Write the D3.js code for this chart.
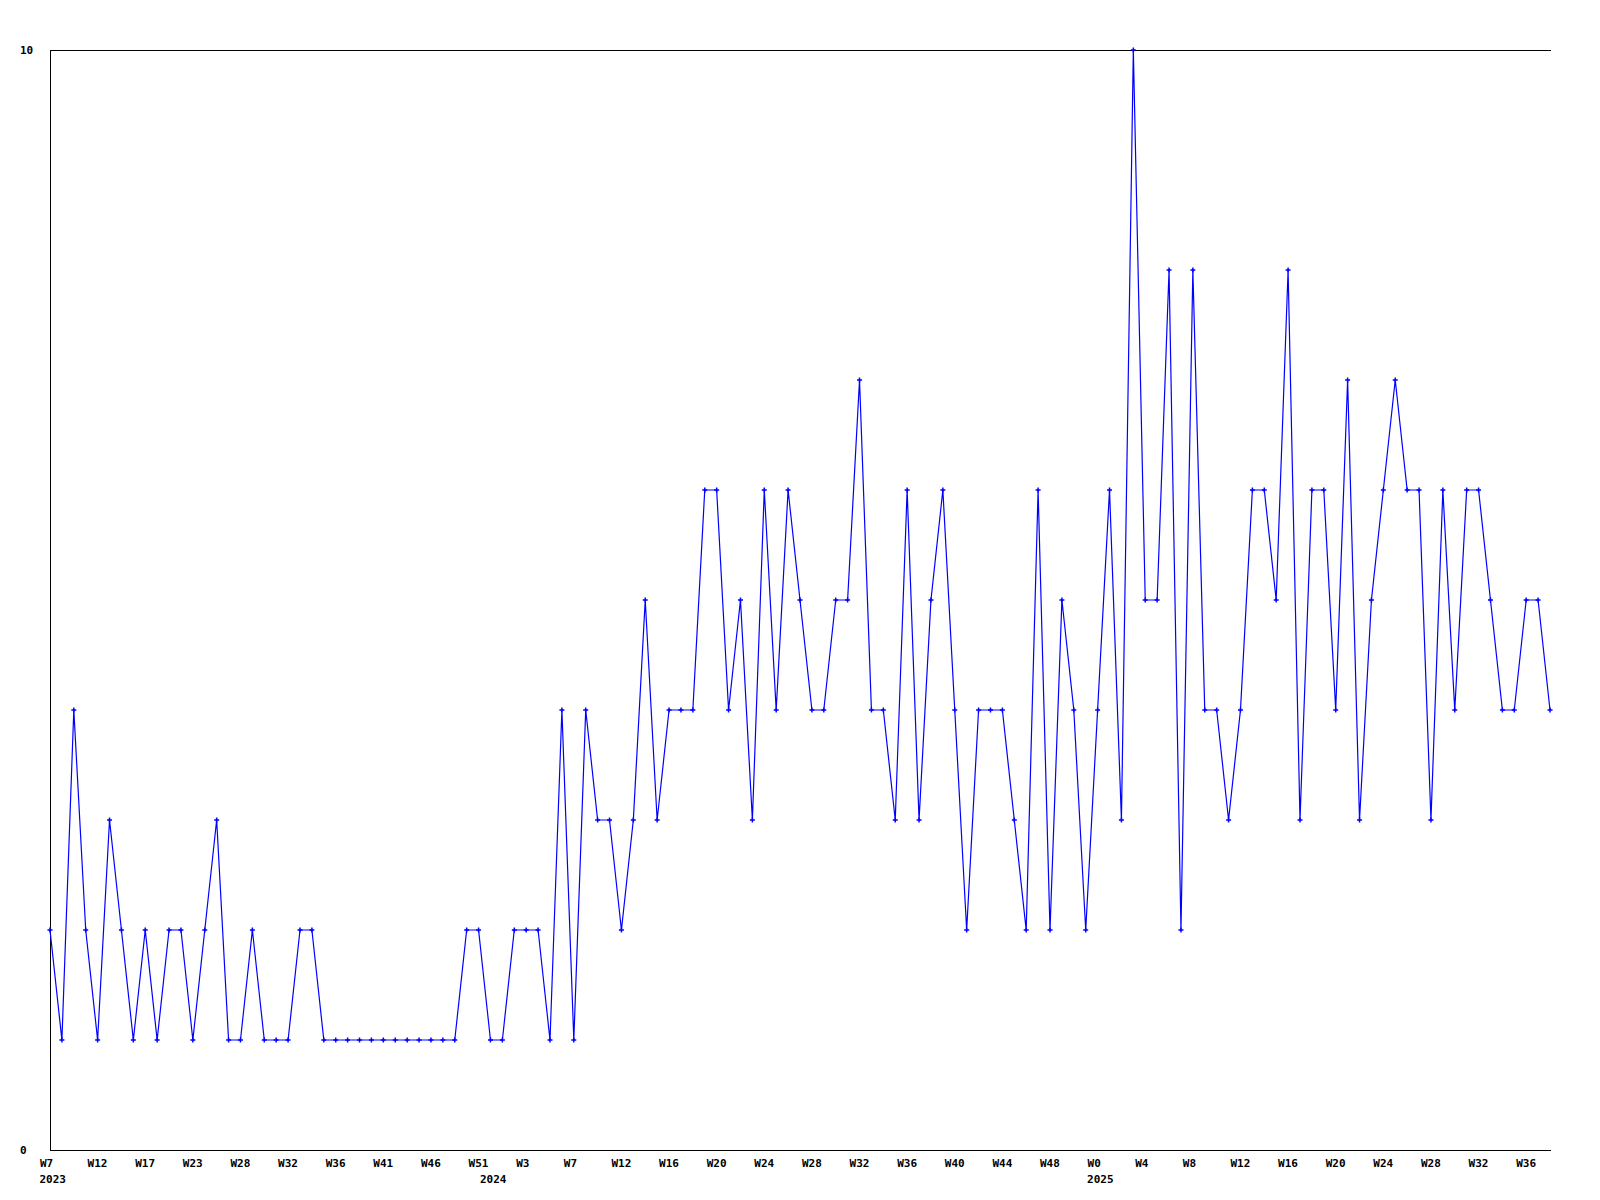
<!DOCTYPE html>
<html>
<head>
<meta charset="utf-8">
<script src="https://cdn.jsdelivr.net/npm/d3@7"></script>
<style>
  html, body { margin: 0; padding: 0; background: #fff; }
  svg { display: block; }
  text { font-family: "DejaVu Sans Mono", monospace; font-weight: bold; font-size: 11px; fill: #000; }
</style>
</head>
<body>
<svg id="chart" width="1600" height="1200"></svg>
<script>
// ---- data ----
const values = [
  2,1,4,2,1,3,2,1,2,1,2,2,1,2,3,1,1,2,1,1,1,2,2,1,1,1,1,1,1,1,1,1,1,1,1,2,2,1,1,2,2,2,1,
  4,1,4,3,3,2,3,5,3,4,4,4,6,6,4,5,3,6,4,6,5,4,4,5,5,7,4,4,3,6,3,5,6,4,2,4,4,4,3,2,6,2,
  5,4,2,4,6,3,10,5,5,8,2,8,4,4,3,4,6,6,5,8,3,6,6,4,7,3,5,6,7,6,6,3,6,4,6,6,5,4,4,5,5,4
];
const weekLabels = ["W7","W12","W17","W23","W28","W32","W36","W41","W46","W51","W3",
  "W7","W12","W16","W20","W24","W28","W32","W36","W40","W44","W48",
  "W0","W4","W8","W12","W16","W20","W24","W28","W32","W36"];
const labelEvery = 4;
const yearLabels = ["2023","2024","2025"];
const yearStartIndex = [0, 37, 88];
const yTicks = [0, 10];

// ---- layout ----
const svg = d3.select("#chart");
const mLeft = 50, mRight = 1550, mTop = 50, mBottom = 1150;

const x = d3.scaleLinear().domain([0, values.length - 1]).range([mLeft, mRight]);
const y = d3.scaleLinear().domain([0, 10]).range([mBottom, mTop]);

// frame: left axis, bottom axis, top line
svg.append("line").attr("x1", mLeft + 0.5).attr("x2", mLeft + 0.5).attr("y1", mTop).attr("y2", mBottom + 0.5)
  .attr("stroke", "#000").attr("stroke-width", 1).attr("shape-rendering", "crispEdges");
svg.append("line").attr("x1", mLeft).attr("x2", mRight + 1).attr("y1", mBottom + 0.5).attr("y2", mBottom + 0.5)
  .attr("stroke", "#000").attr("stroke-width", 1).attr("shape-rendering", "crispEdges");
svg.append("line").attr("x1", mLeft).attr("x2", mRight + 1).attr("y1", mTop + 0.5).attr("y2", mTop + 0.5)
  .attr("stroke", "#000").attr("stroke-width", 1).attr("shape-rendering", "crispEdges");

// y labels
svg.selectAll("text.ylab").data(yTicks).enter().append("text")
  .attr("class", "ylab")
  .attr("x", 20)
  .attr("y", d => y(d))
  .attr("dy", "0.35em")
  .text(d => d);

// x week labels via axis
const tickIdx = weekLabels.map((_, i) => i * labelEvery);
const xAxis = d3.axisBottom(x)
  .tickValues(tickIdx)
  .tickSize(0)
  .tickPadding(0)
  .tickFormat((d, i) => weekLabels[i]);
const gx = svg.append("g").attr("transform", `translate(0,${mBottom + 9})`).call(xAxis);
gx.select(".domain").remove();
gx.selectAll("text")
  .attr("text-anchor", "start")
  .attr("dx", -10.5)
  .attr("dy", "0.35em")
  .attr("y", 4.5)
  .style("font-family", "'DejaVu Sans Mono', monospace")
  .style("font-weight", "bold")
  .style("font-size", "11px")
  .attr("fill", "#000");

// year labels
svg.selectAll("text.year").data(yearLabels).enter().append("text")
  .attr("class", "year")
  .attr("x", (d, i) => x(yearStartIndex[i]) - 10.5)
  .attr("y", mBottom + 29)
  .attr("dy", "0.35em")
  .text(d => d);

// series line
const line = d3.line().x((d, i) => x(i)).y(d => y(d));
svg.append("path").datum(values)
  .attr("d", line)
  .attr("fill", "none")
  .attr("stroke", "#0000ff")
  .attr("stroke-width", 1.2);

// plus markers
svg.selectAll("path.mk").data(values).enter().append("path")
  .attr("class", "mk")
  .attr("transform", (d, i) => `translate(${x(i)},${y(d)})`)
  .attr("d", "M-2.5,0H2.5M0,-2.5V2.5")
  .attr("stroke", "#0000ff")
  .attr("stroke-width", 1.5)
  .attr("fill", "none");
</script>
</body>
</html>
